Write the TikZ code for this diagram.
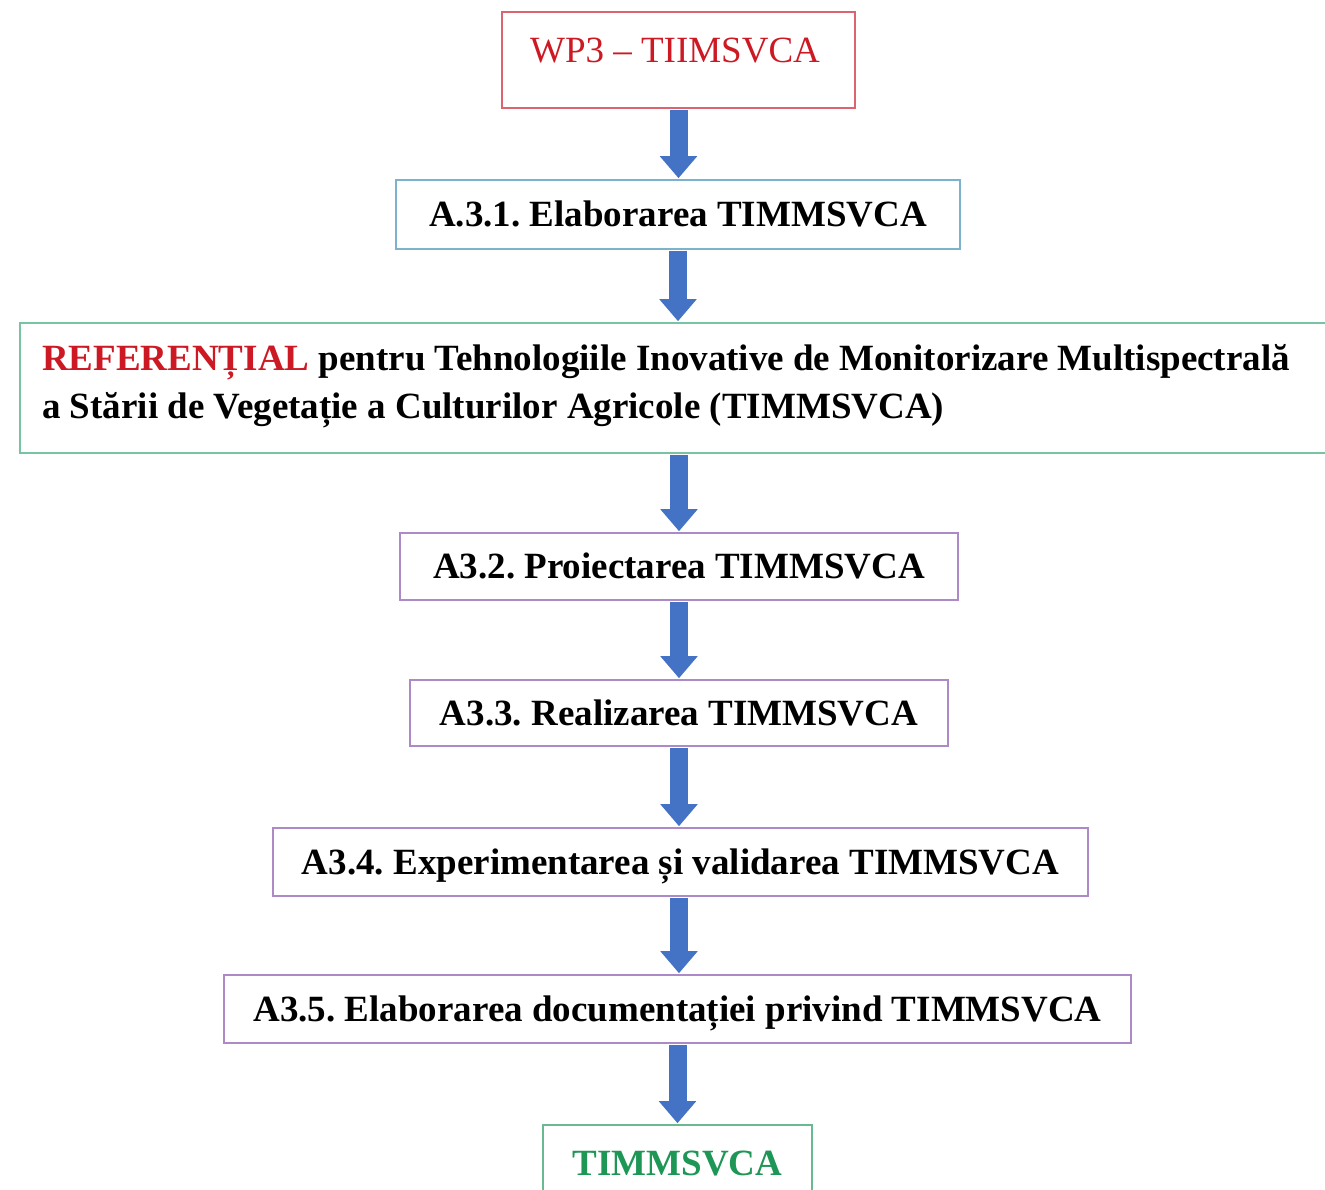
\documentclass[tikz,border=0pt]{standalone}
\usepackage{fontspec}
\setmainfont{Liberation Serif}
\usetikzlibrary{arrows.meta}
\definecolor{wpred}{RGB}{220,100,110}
\definecolor{txtred}{RGB}{205,25,35}
\definecolor{boxblue}{RGB}{125,178,205}
\definecolor{boxgreen}{RGB}{120,195,162}
\definecolor{boxpurple}{RGB}{172,138,200}
\definecolor{endgreen}{RGB}{105,185,145}
\definecolor{txtgreen}{RGB}{30,150,85}
\definecolor{arrowblue}{RGB}{68,114,196}
\tikzset{
  box/.style={draw, line width=1.8pt, rectangle, inner sep=0pt,
    font=\fontsize{37}{46}\selectfont\bfseries, text height=24pt, text depth=0pt},
  bigarrow/.style={draw=arrowblue, line width=18pt,
    -{Triangle[width=36pt,length=22pt]}, arrowblue, shorten <=0.9pt, shorten >=0.9pt},
  plain/.style={inner sep=0pt, font=\fontsize{37}{46}\selectfont}
}
\begin{document}
\frenchspacing
\begin{tikzpicture}[x=1pt,y=-1pt]
\useasboundingbox (0,0) rectangle (1325,1189);
\clip (0,0) rectangle (1325,1189);
\fill[white] (0,0) rectangle (1325,1189);
% boxes
\node[box, draw=wpred, minimum width=353pt, minimum height=96pt] (wp3) at (678.5,60) {};
\node[plain, text=txtred, anchor=base] (wp3t) at (675,62) {WP3 – TIIMSVCA};
\node[box, draw=boxblue, minimum width=564pt, minimum height=69pt] (a31) at (678,214.5) {A.3.1. Elaborarea TIMMSVCA};
\node[box, draw=boxgreen, minimum width=1310pt, minimum height=130pt] (ref) at (675,388) {};
\node[plain, font=\fontsize{37}{46}\selectfont\bfseries, anchor=base west] (ref1) at (42,370)
  {\textcolor{txtred}{REFERENȚIAL} pentru Tehnologiile Inovative de Monitorizare Multispectrală};
\node[plain, font=\fontsize{37}{46}\selectfont\bfseries, anchor=base west] (ref2) at (42,418)
  {a Stării de Vegetație a Culturilor Agricole (TIMMSVCA)};
\node[box, draw=boxpurple, minimum width=558pt, minimum height=67pt] (a32) at (679,566.5) {A3.2. Proiectarea TIMMSVCA};
\node[box, draw=boxpurple, minimum width=538pt, minimum height=66pt] (a33) at (679,713) {A3.3. Realizarea TIMMSVCA};
\node[box, draw=boxpurple, minimum width=815pt, minimum height=68pt] (a34) at (680.5,862) {A3.4. Experimentarea și validarea TIMMSVCA};
\node[box, draw=boxpurple, minimum width=907pt, minimum height=68pt] (a35) at (677.5,1009) {A3.5. Elaborarea documentației privind TIMMSVCA};
\node[box, draw=endgreen, text=txtgreen, minimum width=269pt, minimum height=76pt] (tim) at (677.5,1163) {TIMMSVCA};
% arrows
\coordinate (m34) at (a34.south -| a33.south);
\draw[bigarrow] (wp3.south) -- (wp3.south |- a31.north);
\draw[bigarrow] (a31.south) -- (a31.south |- ref.north);
\draw[bigarrow] (ref.south -| a32.north) -- (a32.north);
\draw[bigarrow] (a32.south) -- (a32.south |- a33.north);
\draw[bigarrow] (a33.south) -- (a33.south |- a34.north);
\draw[bigarrow] (m34) -- (m34 |- a35.north);
\draw[bigarrow] (a35.south) -- (a35.south |- tim.north);
\end{tikzpicture}
\end{document}
